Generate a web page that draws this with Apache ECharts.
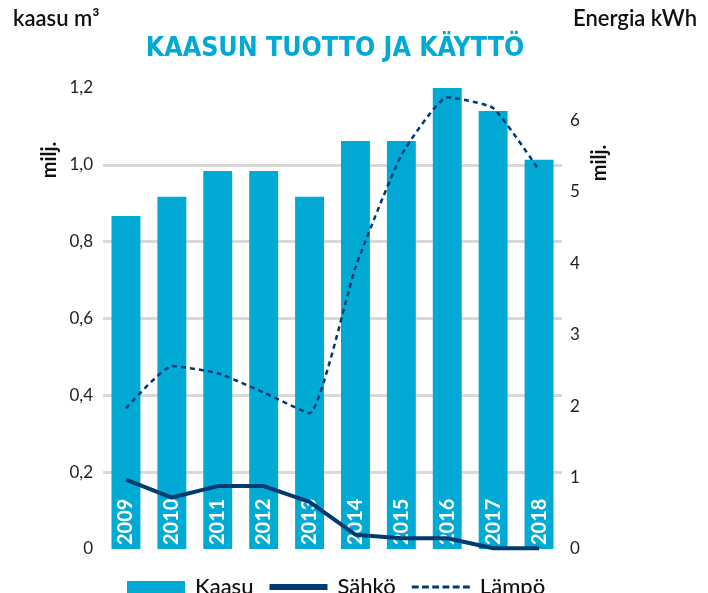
<!DOCTYPE html>
<html><head><meta charset="utf-8">
<script src="https://cdn.jsdelivr.net/npm/echarts@6/dist/echarts.min.js"></script>
<style>html,body{margin:0;padding:0;background:#fff}#c{width:708px;height:593px}</style>
</head><body><div id="c"></div>
<script>
const years = ['2009','2010','2011','2012','2013','2014','2015','2016','2017','2018'];
const kaasu = [0.867, 0.917, 0.984, 0.984, 0.917, 1.062, 1.062, 1.2, 1.14, 1.013];
const sahko = [0.97, 0.72, 0.88, 0.88, 0.66, 0.2, 0.15, 0.15, 0.01, 0.01];
const lampo = [1.97, 2.56, 2.46, 2.19, 1.9, 3.94, 5.51, 6.32, 6.17, 5.3];

const FONT = 'Lato, "Open Sans", sans-serif';
const BLUE = '#00AAD4';
const NAVY = '#003A70';
const dashPath = 'path://M0,0h7v3.2h-7z M10.5,0h7v3.2h-7z M21,0h7v3.2h-7z M31.5,0h7v3.2h-7z M42,0h7v3.2h-7z M52.5,0h7v3.2h-7z';
const chart = echarts.init(document.getElementById('c'), null, {renderer:'canvas'});
chart.setOption({
  animation:false,
  textStyle:{fontFamily:FONT},
  grid:{left:103, right:146, top:88, bottom:44},
  graphic:[
    {type:'text', left:13, top:8, style:{text:'kaasu m³', font:'600 22px '+FONT, fill:'#111'}},
    {type:'text', right:11, top:8, style:{text:'Energia kWh', font:'600 22px '+FONT, fill:'#111'}},
    {type:'text', x:335, y:49, style:{text:'KAASUN TUOTTO JA KÄYTTÖ', font:'bold 26.5px "Liberation Sans Narrow", "DejaVu Sans Condensed", sans-serif', fill:BLUE, textAlign:'center', textVerticalAlign:'middle'}},
    {type:'text', x:50, y:160, rotation:Math.PI/2, style:{text:'milj.', font:'bold 20px '+FONT, fill:'#111', textAlign:'center', textVerticalAlign:'middle'}},
    {type:'text', x:600, y:163, rotation:Math.PI/2, style:{text:'milj.', font:'bold 20px '+FONT, fill:'#111', textAlign:'center', textVerticalAlign:'middle'}}
  ],
  legend:{
    left:122, top:571, itemGap:16, itemWidth:58, itemHeight:12, symbolKeepAspect:true,
    textStyle:{fontSize:22, color:'#111', fontFamily:FONT, fontWeight:500, padding:[0,0,0,5]},
    data:[
      {name:'Kaasu', icon:'rect', itemStyle:{color:BLUE}},
      {name:'Sähkö', icon:'path://M0,0h58v6h-58z', itemStyle:{color:NAVY}},
      {name:'Lämpö', icon:dashPath, itemStyle:{color:NAVY}}
    ]
  },
  xAxis:{type:'category', data:years, axisLine:{show:false}, axisTick:{show:false}, axisLabel:{show:false}},
  yAxis:[
    {type:'value', min:0, max:1.2, interval:0.2,
     axisLine:{show:false}, axisTick:{show:false},
     axisLabel:{fontSize:17, color:'#222', margin:10, formatter:v=> v===0?'0':v.toFixed(1).replace('.',',')},
     splitLine:{show:true, showMinLine:false, showMaxLine:false, lineStyle:{color:'#d9d9d9', width:3}}},
    {type:'value', min:0, max:6.45, interval:1, position:'right',
     axisLine:{show:false}, axisTick:{show:false}, splitLine:{show:false},
     axisLabel:{fontSize:17, color:'#222', margin:8, showMaxLabel:false}}
  ],
  series:[
    {name:'Kaasu', type:'bar', data:kaasu, barWidth:'63%', itemStyle:{color:BLUE}, z:2,
     label:{show:true, position:'insideBottom', rotate:90, align:'left', verticalAlign:'middle', distance:4,
            formatter:'{b}', color:'#fff', fontSize:20, fontWeight:'bold', fontFamily:FONT}},
    {name:'Sähkö', type:'line', yAxisIndex:1, data:sahko, symbol:'none', z:4,
     lineStyle:{color:NAVY, width:4}, itemStyle:{color:NAVY}},
    {name:'Lämpö', type:'line', yAxisIndex:1, data:lampo, symbol:'none', smooth:0.15, z:4,
     lineStyle:{color:NAVY, width:2.5, type:[5,4]}, itemStyle:{color:NAVY}}
  ]
});
</script></body></html>
